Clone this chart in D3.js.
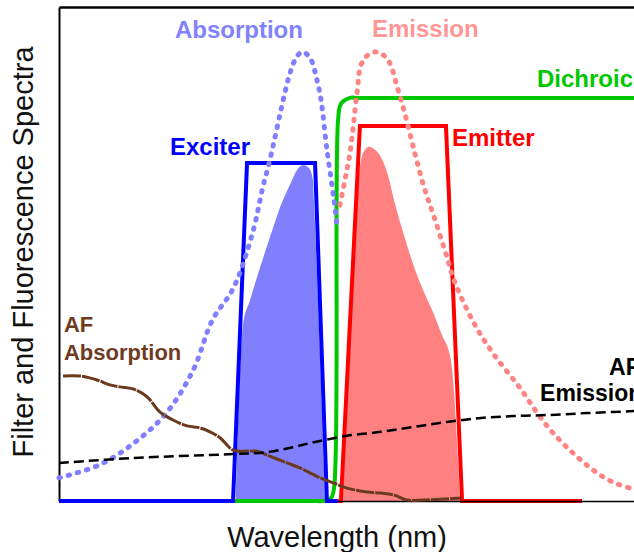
<!DOCTYPE html>
<html>
<head>
<meta charset="utf-8">
<script src="https://cdn.jsdelivr.net/npm/d3@7"></script>
<style>
  body { margin: 0; background: #fff; }
  svg { display: block; font-family: "Liberation Sans", Arial, sans-serif; }
</style>
</head>
<body>
<svg id="chart" width="634" height="552"></svg>
<script>
// wavelength (nm) , relative intensity (%)
const absorption = [[400,4.7],[421,7.3],[439,11.7],[456,17.8],[470,26.5],[480,36.6],[491,43.1],[501,54.3],[506.4,63.6],[510,69],[517,81.2],[520.5,86.6],[524,89.9],[527,90.9],[531,89.7],[534.6,85.2],[536.7,81.2],[539.8,71.1],[543.5,60.9],[545,55.9]];
const emission = [[546.6,59.9],[549.2,65],[551.8,70.4],[555.5,82.6],[557.6,88.3],[561.2,90.3],[565.9,90.9],[571.6,89.3],[576.9,83.2],[580,79.1],[585.2,71.1],[590.4,63.6],[595.7,57.5],[602.4,49.4],[606.1,44.7],[616.5,36],[627,29.6],[640.5,22.9],[651,17],[657.7,13.8],[668.2,9.7],[678.6,6.3],[689,3.8],[700,2.4]];
const exciter = [[400,0],[490.8,0],[498.1,68.4],[533.6,68.4],[539.8,0],[545.5,0]];
const excitedFill = [[492.3,0],[496,35.6],[499.7,40.7],[503.3,45.3],[507.5,50.4],[511.7,55.3],[515.8,59.9],[520.5,64],[524.2,67],[527.3,68],[530.4,67.4],[532.5,65],[533,60.9],[538.8,0]];
const emitter = [[545.5,0],[547.1,0],[557,75.9],[601.9,75.9],[610.3,0],[672.9,0]];
const emittedFill = [[548.2,0],[556.5,66],[558.5,70.3],[561.7,71.7],[564.9,71.1],[568,69.6],[571.6,66],[574.8,60.9],[580,53.8],[585.2,47.4],[590.4,42.3],[595.7,37.7],[599.8,33.6],[603.5,30.2],[604.5,28.5],[609.2,0]];
const dichroic = [[490.8,0],[495,0],[533,0],[537.2,0],[541.9,0.6],[543.5,2.6],[545.6,77.1],[547.1,80.4],[551.8,81.6],[556,81.6],[695,81.6],[700,81.6]];
const afAbsorption = [[402.1,25.3],[411,25.3],[419.8,24.5],[426.6,23.5],[431.8,23.1],[438.6,22.7],[445.9,21.1],[452.7,18],[459.5,16.4],[466.8,15.2],[473.6,14.8],[478.8,14],[484,12.8],[490.8,10.3],[498.1,10.1],[503.3,10.1],[508.5,9.3],[519,7.7],[525.7,6.7],[536.2,4.7],[543.5,3.6],[550.3,2.6],[560.7,1.8],[568,1.6],[574.8,1.2],[581.6,0.2],[590.4,0.2],[609.7,0.6]];
const afEmission = [[400,7.7],[438.6,8.7],[490.8,9.5],[508.5,9.9],[522.1,10.9],[533,11.9],[550.3,13.2],[568,14],[585.2,15],[602.4,16],[620.2,16.8],[637.4,17.2],[654.6,17.4],[675.5,17.8],[700,18.2]];

const svg = d3.select("#chart");

const x = d3.scaleLinear().domain([400, 700]).range([59, 634]);
const y = d3.scaleLinear().domain([0, 100]).range([501, 7]);

const line = curve => d3.line().x(d => x(d[0])).y(d => y(d[1])).curve(curve);
const area = d3.area().x(d => x(d[0])).y0(y(0)).y1(d => y(d[1])).curve(d3.curveMonotoneX);

// frame: left + top
svg.append("g").attr("transform", `translate(${x(400)},0)`)
  .call(d3.axisLeft(y).ticks(0).tickSizeOuter(0))
  .select(".domain").attr("stroke-width", 2);
svg.append("g").attr("transform", `translate(0,${y(100)})`)
  .call(d3.axisTop(x).ticks(0).tickSizeOuter(0))
  .select(".domain").attr("stroke-width", 2.5);

// filtered spectra
svg.append("path").datum(excitedFill).attr("d", area).attr("fill", "#8080ff");
svg.append("path").datum(emittedFill).attr("d", area).attr("fill", "#ff8080");

// emitter first so the axis line shows through its bottom
svg.append("path").datum(emitter).attr("d", line(d3.curveLinear))
  .attr("fill", "none").attr("stroke", "#ff0000").attr("stroke-width", 4);

svg.append("g").attr("transform", `translate(0,${y(0)})`)
  .call(d3.axisBottom(x).ticks(0).tickSizeOuter(0))
  .select(".domain").attr("stroke-width", 1.5);

svg.append("path").datum(dichroic).attr("d", line(d3.curveCatmullRom.alpha(0.5)))
  .attr("fill", "none").attr("stroke", "#00c800").attr("stroke-width", 4);
svg.append("path").datum(exciter).attr("d", line(d3.curveLinear))
  .attr("fill", "none").attr("stroke", "#0000ff").attr("stroke-width", 4);

// dye spectra, dotted
svg.append("path").datum(absorption).attr("d", line(d3.curveCatmullRom))
  .attr("fill", "none").attr("stroke", "#8080ff").attr("stroke-width", 5)
  .attr("stroke-linecap", "round").attr("stroke-dasharray", "1.5 8");
svg.append("path").datum(emission).attr("d", line(d3.curveCatmullRom))
  .attr("fill", "none").attr("stroke", "#ff8585").attr("stroke-width", 5)
  .attr("stroke-linecap", "round").attr("stroke-dasharray", "1.5 8");

// autofluorescence
svg.append("path").datum(afAbsorption).attr("d", line(d3.curveCatmullRom))
  .attr("fill", "none").attr("stroke", "#6b3a1e").attr("stroke-width", 3)
  .attr("stroke-dasharray", "18 1");
svg.append("path").datum(afEmission).attr("d", line(d3.curveCatmullRom))
  .attr("fill", "none").attr("stroke", "#000").attr("stroke-width", 2.5)
  .attr("stroke-dasharray", "10 5");

// labels
function label(wl, v, text, color, size) {
  svg.append("text").attr("x", x(wl)).attr("y", y(v))
    .attr("fill", color).attr("font-size", size).attr("font-weight", "bold")
    .text(text);
}
label(460.5, 93.7, "Absorption", "#8282ff", 24);
label(563.3, 93.9, "Emission", "#ff9696", 24);
label(649.4, 83.8, "Dichroic", "#00c800", 24);
label(457.9, 70.0, "Exciter", "#0000ff", 24);
label(605.0, 71.9, "Emitter", "#ff0000", 24);
label(402.6, 34.2, "AF", "#6e3b1f", 22);
label(402.6, 28.5, "Absorption", "#6e3b1f", 22);
label(687.0, 25.5, "AF", "#000", 23);
label(651.0, 20.2, "Emission", "#000", 23);

// axis titles
svg.append("text").attr("x", 337).attr("y", 547)
  .attr("text-anchor", "middle").attr("font-size", 29).attr("fill", "#111")
  .text("Wavelength (nm)");
svg.append("text").attr("transform", "translate(33,252) rotate(-90)")
  .attr("text-anchor", "middle").attr("font-size", 29).attr("fill", "#111")
  .text("Filter and Fluorescence Spectra");
</script>
</body>
</html>
